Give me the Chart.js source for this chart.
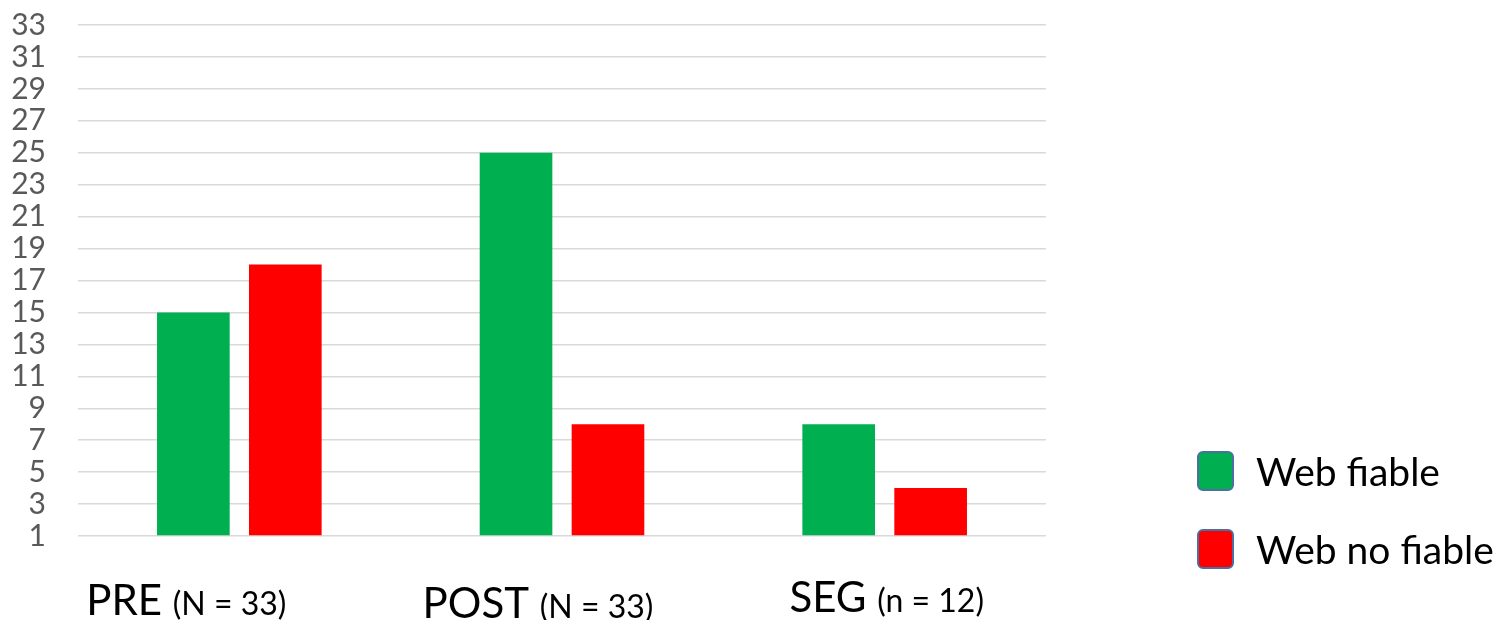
<!DOCTYPE html>
<html>
<head>
<meta charset="utf-8">
<script src="https://cdn.jsdelivr.net/npm/chart.js@4.4.0/dist/chart.umd.min.js"></script>
<style>
   body { margin: 0; background: #fff; }
   #wrap { width: 1499px; height: 620px; position: relative; }
</style>
</head>
<body>
<div id="wrap"><canvas id="myChart"></canvas></div>
<script>
const categories = ['PRE', 'POST', 'SEG'];
const sampleSizes = ['(N = 33)', '(N = 33)', '(n = 12)'];
const seriesNames = ['Web fiable', 'Web no fiable'];
const fiable = [15, 25, 8];
const noFiable = [18, 8, 4];
const yMin = 1, yMax = 33, yStep = 2;

const green = '#00B050', red = '#FF0000';

// 카테고리 라벨 (큰 글씨 + 작은 글씨)
const catLabels = {
   id: 'catLabels',
   afterDraw(chart) {
      const ctx = chart.ctx, xs = chart.scales.x;
      const shift = [[-53, 79], [-24, 82], [2, 76]]; // 라벨 위치 보정 (중심 기준)
      ctx.save();
      ctx.fillStyle = '#000';
      ctx.textBaseline = 'alphabetic';
      ctx.textAlign = 'left';
      categories.forEach((c, i) => {
         ctx.font = '42px Lato';
         const big = c + ' ';
         const wBig = ctx.measureText(big).width;
         ctx.font = '32px Lato';
         const wSmall = ctx.measureText(sampleSizes[i]).width;
         const cx = xs.getPixelForValue(i) + shift[i][0];
         const y = chart.chartArea.bottom + shift[i][1];
         const x = cx - (wBig + wSmall) / 2;
         ctx.font = '42px Lato';
         ctx.fillText(big, x, y);
         ctx.font = '32px Lato';
         ctx.fillText(sampleSizes[i], x + wBig, y);
      });
      ctx.restore();
   }
};

// 오른쪽 범례
const sideLegend = {
   id: 'sideLegend',
   afterDraw(chart) {
      const ctx = chart.ctx;
      const colors = [green, red];
      ctx.save();
      seriesNames.forEach((name, i) => {
         const y = 452 + i * 78;
         ctx.beginPath();
         ctx.roundRect(1198, y, 35, 38, 5);
         ctx.fillStyle = colors[i];
         ctx.fill();
         ctx.lineWidth = 2;
         ctx.strokeStyle = '#4A6FA0';
         ctx.stroke();
         ctx.fillStyle = '#000';
         ctx.font = '39px Lato';
         ctx.textBaseline = 'middle';
         ctx.fillText(name, 1256, y + 21);
      });
      ctx.restore();
   }
};

new Chart(document.getElementById('myChart').getContext('2d'), {
   type: 'bar',
   data: {
      labels: categories,
      datasets: [
         { label: seriesNames[0], data: fiable, backgroundColor: green, base: yMin },
         { label: seriesNames[1], data: noFiable, backgroundColor: red, base: yMin }
      ]
   },
   options: {
      responsive: true,
      maintainAspectRatio: false,
      animation: false,
      categoryPercentage: 0.57,
      barPercentage: 0.79,
      layout: { padding: { left: 0, right: 453, top: 25, bottom: 84 } },
      scales: {
         x: { display: false },
         y: {
            min: yMin, max: yMax,
            afterFit(scale) {
               scale.width = 78;
               scale.paddingTop = 0;
               scale.paddingBottom = 0;
            },
            ticks: { stepSize: yStep, autoSkip: false, color: '#595959', font: { family: 'Lato', size: 30 }, padding: 32 },
            grid: { color: '#D9D9D9', lineWidth: 1.5, drawTicks: false },
            border: { display: false }
         }
      },
      plugins: { legend: { display: false }, tooltip: { enabled: false } }
   },
   plugins: [catLabels, sideLegend]
});
</script>
</body>
</html>
